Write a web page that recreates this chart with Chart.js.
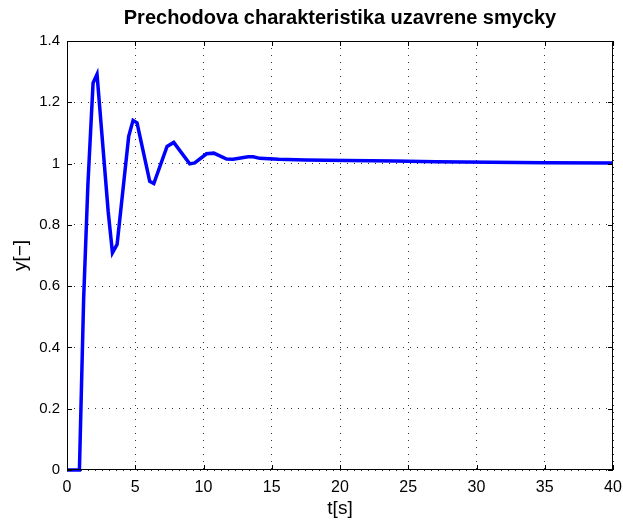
<!DOCTYPE html>
<html>
<head>
<meta charset="utf-8">
<script src="https://cdn.jsdelivr.net/npm/chart.js@4"></script>
<style>
  html, body { margin: 0; padding: 0; background: #fff; }
  #wrap { width: 623px; height: 520px; }
</style>
</head>
<body>
<div id="wrap"><canvas id="myChart" width="623" height="520"></canvas></div>
<script>
// step response samples (time in s, output)
const casT = [0, 0.91, 1.22, 1.53, 1.91, 2.20, 3.02, 3.33, 3.67, 4.52, 4.84, 5.13,
  6.06, 6.36, 7.33, 7.82, 8.99, 9.36, 10.22, 10.76, 11.69, 12.17, 13.27, 13.64,
  14.13, 15.5, 17.5, 20.5, 24, 27, 31, 35, 40];
const vystupY = [0, 0, 0.56, 0.93, 1.263, 1.291, 0.842, 0.709, 0.736, 1.089, 1.141, 1.133,
  0.942, 0.935, 1.056, 1.069, 0.999, 1.002, 1.032, 1.034, 1.015, 1.014, 1.022, 1.022,
  1.017, 1.014, 1.012, 1.010, 1.008, 1.006, 1.004, 1.003, 1.002];
const xTicks = [0, 5, 10, 15, 20, 25, 30, 35, 40];
const yTicks = [0, 0.2, 0.4, 0.6, 0.8, 1, 1.2, 1.4];

const body = [];
for (let i = 0; i < casT.length; i++) body.push({ x: casT[i], y: vystupY[i] });

const font = "'Liberation Sans', Arial, Helvetica, sans-serif";

// box around the axes + small inward tick marks on all four sides
const ramecek = {
  id: "ramecek",
  afterDraw(chart) {
    const { ctx, chartArea: a, scales } = chart;
    ctx.save();
    ctx.strokeStyle = "#000";
    ctx.lineWidth = 1;
    ctx.strokeRect(a.left + 0.5, a.top + 0.5, a.right - a.left - 1, a.bottom - a.top - 1);
    ctx.beginPath();
    xTicks.forEach(function (v) {
      const px = Math.round(scales.x.getPixelForValue(v)) + 0.5;
      ctx.moveTo(px, a.bottom); ctx.lineTo(px, a.bottom - 5);
      ctx.moveTo(px, a.top); ctx.lineTo(px, a.top + 5);
    });
    yTicks.forEach(function (v) {
      const py = Math.round(scales.y.getPixelForValue(v)) + 0.5;
      ctx.moveTo(a.left, py); ctx.lineTo(a.left + 5, py);
      ctx.moveTo(a.right, py); ctx.lineTo(a.right - 5, py);
    });
    ctx.stroke();
    ctx.restore();
  },
};

const ctx = document.getElementById("myChart").getContext("2d");
new Chart(ctx, {
  type: "line",
  data: {
    datasets: [
      {
        label: "y",
        data: body,
        borderColor: "rgb(0, 0, 255)",
        borderWidth: 3.5,
        pointRadius: 0,
        tension: 0,
        fill: false,
        clip: 4,
      },
    ],
  },
  options: {
    responsive: false,
    animation: false,
    layout: { padding: { left: 0, right: 0, top: 0, bottom: 0 } },
    plugins: {
      legend: { display: false },
      tooltip: { enabled: false },
      title: {
        display: true,
        fullSize: false,
        text: "Prechodova charakteristika uzavrene smycky",
        color: "#000",
        font: { family: font, size: 20, weight: "bold" },
        padding: { top: 6, bottom: 11 },
      },
    },
    scales: {
      x: {
        type: "linear",
        min: 0,
        max: 40,
        afterBuildTicks(scale) {
          scale.ticks = xTicks.map((v) => ({ value: v }));
        },
        afterFit(scale) {
          scale.height = 50;
          scale.paddingRight = 10;
        },
        ticks: {
          color: "#000",
          font: { family: font, size: 16 },
          padding: 8,
          maxRotation: 0,
          callback: (v) => String(v),
        },
        grid: {
          color: "#333",
          lineWidth: 1,
          drawTicks: false,
        },
        border: { display: false, dash: [1, 6] },
        title: {
          display: true,
          text: "t[s]",
          color: "#000",
          font: { family: font, size: 19 },
          padding: { top: 0, bottom: 0 },
        },
      },
      y: {
        type: "linear",
        min: 0,
        max: 1.4,
        afterBuildTicks(scale) {
          scale.ticks = yTicks.map((v) => ({ value: v }));
        },
        afterFit(scale) { scale.width = 67; },
        ticks: {
          color: "#000",
          font: { family: font, size: 15 },
          padding: 7,
          callback: (v) => String(Number(v.toFixed(1))),
        },
        grid: {
          color: "#333",
          lineWidth: 1,
          drawTicks: false,
        },
        border: { display: false, dash: [1, 6] },
        title: {
          display: true,
          text: "y[−]",
          color: "#000",
          font: { family: font, size: 19 },
          padding: { top: 9, bottom: 0 },
        },
      },
    },
  },
  plugins: [ramecek],
});
</script>
</body>
</html>
